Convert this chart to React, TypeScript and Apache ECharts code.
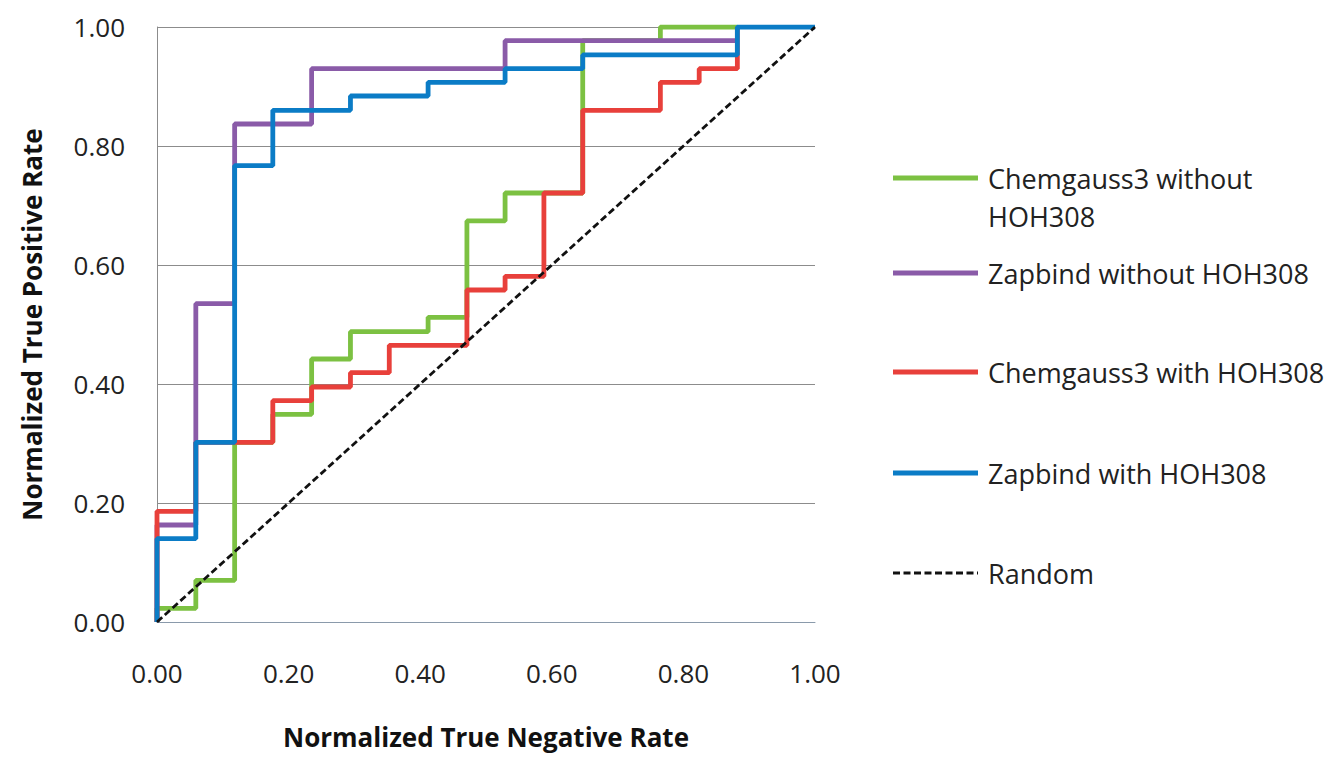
import React, { useEffect, useRef } from "react";
import * as echarts from "echarts";

const seriesNames = [
  "Chemgauss3 without HOH308",
  "Zapbind without HOH308",
  "Chemgauss3 with HOH308",
  "Zapbind with HOH308",
  "Random",
];
const legendLabels = [
  "Chemgauss3 without\nHOH308",
  "Zapbind without HOH308",
  "Chemgauss3 with HOH308",
  "Zapbind with HOH308",
  "Random",
];
const colors = ["#7CC142", "#8A5BA8", "#E8403B", "#0B7CC6", "#111111"];

// step points: x = start of a level, y = level
const greenX = [0, 0, 0.059, 0.118, 0.176, 0.235, 0.294, 0.412, 0.471, 0.529, 0.647, 0.765, 0.882];
const greenY = [0, 0.023, 0.07, 0.302, 0.349, 0.442, 0.488, 0.512, 0.674, 0.721, 0.977, 1.0, 1.0];

const purpleX = [0, 0, 0.059, 0.118, 0.235, 0.529, 0.882];
const purpleY = [0, 0.163, 0.535, 0.837, 0.93, 0.977, 0.977];

const redX = [0, 0, 0.059, 0.176, 0.235, 0.294, 0.353, 0.471, 0.529, 0.588, 0.647, 0.765, 0.824, 0.882];
const redY = [0, 0.186, 0.302, 0.372, 0.395, 0.419, 0.465, 0.558, 0.581, 0.721, 0.86, 0.907, 0.93, 1.0];

const blueX = [0, 0, 0.059, 0.118, 0.176, 0.294, 0.412, 0.529, 0.647, 0.882, 1.0];
const blueY = [0, 0.14, 0.302, 0.767, 0.86, 0.884, 0.907, 0.93, 0.953, 1.0, 1.0];

const randomX = [0, 1];
const randomY = [0, 1];

const axisTicks = [0, 0.2, 0.4, 0.6, 0.8, 1.0];

const zip = (xs: number[], ys: number[]) => xs.map((x, i) => [x, ys[i]]);

const FONT = "'Open Sans', 'Noto Sans', sans-serif";

export default function App() {
  const ref = useRef<HTMLDivElement>(null);
  useEffect(() => {
    if (!ref.current) return;
    const chart = echarts.init(ref.current, null, { renderer: "svg" });
    const stepData = [
      zip(greenX, greenY),
      zip(purpleX, purpleY),
      zip(redX, redY),
      zip(blueX, blueY),
    ];
    const series: any[] = stepData.map((d, i) => ({
      name: seriesNames[i],
      type: "line",
      step: "end",
      data: d,
      showSymbol: false,
      symbol: "none",
      lineStyle: { color: colors[i], width: 4.8 },
      itemStyle: { color: colors[i] },
    }));
    series.push({
      name: seriesNames[4],
      type: "line",
      data: zip(randomX, randomY),
      showSymbol: false,
      symbol: "none",
      lineStyle: { color: colors[4], width: 2.8, type: [7, 3.5] },
      itemStyle: { color: colors[4] },
    });

    const legendY = [178, 273, 372, 473, 573];
    const graphic: any[] = [];
    legendLabels.forEach((lab, i) => {
      graphic.push({
        type: "line",
        shape: { x1: 893, y1: legendY[i], x2: 978, y2: legendY[i] },
        style: {
          stroke: colors[i],
          lineWidth: i === 4 ? 2.8 : 4.8,
          lineDash: i === 4 ? [7, 3.5] : null,
        },
      });
      graphic.push({
        type: "text",
        x: 988,
        y: legendY[i] - 19,
        style: {
          text: lab,
          fill: "#222",
          font: `27px ${FONT}`,
          lineHeight: 38,
          verticalAlign: "top",
        },
      });
    });

    chart.setOption({
      animation: false,
      backgroundColor: "#fff",
      grid: { left: 157, right: 529, top: 27, bottom: 135 },
      xAxis: {
        type: "value",
        min: 0,
        max: 1,
        interval: 0.2,
        name: "Normalized True Negative Rate",
        nameLocation: "middle",
        nameGap: 102,
        nameTextStyle: { fontFamily: FONT, fontWeight: "bold", fontSize: 26, color: "#111" },
        axisLine: { show: true, lineStyle: { color: "#8a9aab", width: 1 } },
        axisTick: { show: false },
        splitLine: { show: false },
        axisLabel: {
          margin: 38,
          fontFamily: FONT,
          fontSize: 26,
          color: "#222",
          formatter: (v: number) => (axisTicks.includes(+v.toFixed(1)) ? v.toFixed(2) : ""),
        },
      },
      yAxis: {
        type: "value",
        min: 0,
        max: 1,
        interval: 0.2,
        name: "Normalized True Positive Rate",
        nameLocation: "middle",
        nameGap: 112,
        nameTextStyle: { fontFamily: FONT, fontWeight: "bold", fontSize: 26, color: "#111" },
        axisLine: { show: true, lineStyle: { color: "#8c8c8c", width: 1 } },
        axisTick: { show: false },
        splitLine: { show: true, lineStyle: { color: "#8c8c8c", width: 1 } },
        axisLabel: {
          margin: 32,
          fontFamily: FONT,
          fontSize: 26,
          color: "#222",
          formatter: (v: number) => v.toFixed(2),
        },
      },
      series,
      graphic,
    });
    return () => chart.dispose();
  }, []);
  return (
    <div
      ref={ref}
      style={{ position: "fixed", left: 0, top: 0, width: 1344, height: 757, background: "#fff" }}
    />
  );
}
